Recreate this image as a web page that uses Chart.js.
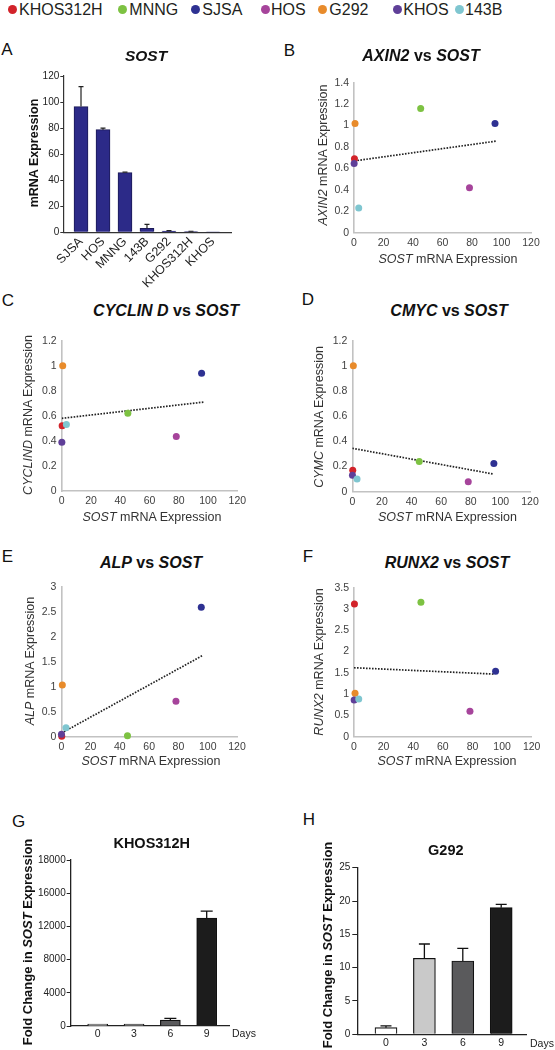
<!DOCTYPE html>
<html><head><meta charset="utf-8">
<script src="https://cdn.jsdelivr.net/npm/chart.js@4.4.1/dist/chart.umd.min.js"></script>
<style>
html,body{margin:0;padding:0;background:#fff;}
#page{position:relative;width:555px;height:1050px;overflow:hidden;font-family:'Liberation Sans',Arial,Helvetica,sans-serif;color:#1a1a1a;}
canvas{position:absolute;}
.t{position:absolute;white-space:nowrap;line-height:1;transform:translate(-50%,-50%);}
.r{transform:translate(-50%,-50%) rotate(-90deg);}
.dot{position:absolute;border-radius:50%;}
</style></head><body><div id="page"></div>
<script>
// ---------------- DATA ----------------
const cellLines = ['KHOS312H','MNNG','SJSA','HOS','G292','KHOS','143B'];

const barCategories = ['SJSA','HOS','MNNG','143B','G292','KHOS312H','KHOS'];
const sostBarValues = [96.5, 78.8, 45.8, 3.1, 1.0, 0.5, 0.1];
const sostBarErrors = [15.3, 1.2, 0.4, 3.0, 0.3, 0.3, 0.0];

// SOST expression (x) of each cell line, in cellLines order
const sostScatterX = [0.3, 45.2, 95.6, 78.3, 0.7, 0.1, 3.2];
const axin2Y   = [0.69, 1.16, 1.02, 0.42, 1.02, 0.645, 0.23];
const cyclinDY = [0.52, 0.62, 0.94, 0.435, 1.00, 0.39, 0.53];
const cmycY    = [0.17, 0.24, 0.225, 0.08, 1.00, 0.13, 0.10];
const alpY     = [0.01, 0.02, 2.60, 0.71, 1.04, 0.05, 0.18];
const runx2Y   = [3.12, 3.16, 1.54, 0.60, 1.02, 0.86, 0.885];

// trend line end points
const trendAxin2X = [0.3, 96.5],  trendAxin2Y = [0.67, 0.855];
const trendCyclinX = [0, 97],     trendCyclinY = [0.58, 0.71];
const trendCmycX = [0, 95.5],     trendCmycY = [0.345, 0.14];
const trendAlpX = [0, 96.5],      trendAlpY = [0.07, 1.63];
const trendRunx2X = [0, 95],      trendRunx2Y = [1.62, 1.47];

const days = ['0','3','6','9'];
const khosFold = [1, 50, 700, 13000];
const khosFoldErr = [0, 0, 220, 850];
const khosYTickLabels = ['0','4000','8000','12000','16000','18000'];
const g292Fold = [1.0, 11.4, 11.0, 19.0];
const g292FoldErr = [0.25, 2.15, 1.9, 0.5];

// ---------------- STYLE ----------------
const lineColors = ['#d2232a','#7dc242','#2e3192','#a6449b','#e88b2b','#5f3f98','#7fc6d0'];
const dayColors = ['#ffffff','#c9c9c9','#5a5a5c','#1c1c1c'];
const legendDotX = [12.7, 122.7, 195.7, 265.7, 322.7, 397.3, 459.3];
const legendTextX = [19, 129.3, 202.3, 271, 329.3, 403.3, 465];

Chart.defaults.font.family = "'Liberation Sans', Arial, Helvetica, sans-serif";
Chart.defaults.color = '#333';

const page = document.getElementById('page');

function txt(html, cx, cy, css, rot) {
  const d = document.createElement('div');
  d.className = 't' + (rot ? ' r' : '');
  d.innerHTML = html;
  d.style.left = cx + 'px';
  d.style.top = cy + 'px';
  d.style.cssText += css || '';
  page.appendChild(d);
  return d;
}

function place(cl, ct, cr, cb, mL, mT, mR, mB) {
  const left = Math.floor(cl - mL), top = Math.floor(ct - mT);
  const right = Math.ceil(cr + mR), bottom = Math.ceil(cb + mB);
  const c = document.createElement('canvas');
  c.width = right - left; c.height = bottom - top;
  c.style.left = left + 'px'; c.style.top = top + 'px';
  c.style.width = c.width + 'px'; c.style.height = c.height + 'px';
  page.appendChild(c);
  return {el: c, yw: cl - left, pt: ct - top, pr: right - cr, xh: bottom - cb};
}

const errorBarPlugin = {
  id: 'errbars',
  afterDatasetsDraw(chart, args, opts) {
    const ctx = chart.ctx, ys = chart.scales.y;
    chart.data.datasets.forEach((ds, di) => {
      if (!ds.errorBars) return;
      const meta = chart.getDatasetMeta(di);
      meta.data.forEach((el, i) => {
        const e = ds.errorBars[i];
        if (!e) return;
        const yTop = ys.getPixelForValue(ds.data[i].y + e);
        ctx.save();
        ctx.strokeStyle = opts.color; ctx.lineWidth = opts.width;
        ctx.beginPath();
        ctx.moveTo(el.x, el.y); ctx.lineTo(el.x, yTop);
        ctx.moveTo(el.x - opts.cap / 2, yTop); ctx.lineTo(el.x + opts.cap / 2, yTop);
        ctx.stroke();
        ctx.restore();
      });
    });
  }
};

const numFmt = v => String(+Number(v).toFixed(2));

// ---------------- LEGEND ----------------
cellLines.forEach((name, i) => {
  const d = document.createElement('div');
  d.className = 'dot';
  d.style.cssText += `left:${legendDotX[i]-4.5}px;top:${9.5-4.5}px;width:9px;height:9px;background:${lineColors[i]};`;
  page.appendChild(d);
  const t = document.createElement('div');
  t.className = 't';
  t.textContent = name;
  t.style.cssText += `left:${legendTextX[i]}px;top:10px;transform:translate(0,-50%);font-size:16px;color:#231f20;`;
  page.appendChild(t);
});

// ---------------- PANEL A ----------------
(function(){
  const p = place(63.3, 76, 231, 232.3, 43, 12, 12, 62);
  new Chart(p.el, {
    type: 'bar',
    data: { datasets: [{
      data: sostBarValues.map((v, i) => ({x: i, y: v})),
      errorBars: sostBarErrors,
      backgroundColor: '#2c2a88', borderColor: '#1b1a55', borderWidth: 1,
      barThickness: 14
    }]},
    plugins: [errorBarPlugin],
    options: {
      responsive: false, animation: false, devicePixelRatio: 1, events: [],
      layout: {padding: {left: 0, top: p.pt, right: p.pr, bottom: 0}},
      plugins: {legend: {display: false}, tooltip: {enabled: false},
        errbars: {color: '#222', width: 1.2, cap: 5}},
      scales: {
        x: {type: 'linear', offset: false, min: -0.805, max: 6.82,
          ticks: {stepSize: 1, includeBounds: false, autoSkip: false, minRotation: 45, maxRotation: 45,
            padding: 2, color: '#222', font: {size: 12.5},
            callback: v => Number.isInteger(v) ? barCategories[v] : ''},
          grid: {display: false, drawTicks: false},
          border: {display: true, color: '#333', width: 1.2},
          afterFit: s => { s.height = p.xh; }},
        y: {min: 0, max: 120,
          ticks: {stepSize: 20, padding: 1, color: '#222', font: {size: 10}},
          grid: {display: true, drawOnChartArea: false, drawTicks: true, tickLength: 3, color: '#333', lineWidth: 1},
          border: {display: true, color: '#333', width: 1.2},
          afterFit: s => { s.width = p.yw; }}
      }
    }
  });
})();

// ---------------- SCATTER PANELS ----------------
const scatterPanels = [
  {area: [354, 82.7, 531, 232.7], yMax: 1.4, step: 0.2, y: axin2Y, tx: trendAxin2X, ty: trendAxin2Y},
  {area: [61.7, 340.7, 237.3, 491], yMax: 1.2, step: 0.2, y: cyclinDY, tx: trendCyclinX, ty: trendCyclinY},
  {area: [352.3, 340.7, 530, 491.7], yMax: 1.2, step: 0.2, y: cmycY, tx: trendCmycX, ty: trendCmycY},
  {area: [61.3, 587.3, 237, 736.7], yMax: 3, step: 0.5, y: alpY, tx: trendAlpX, ty: trendAlpY},
  {area: [354, 587.7, 531.7, 736.7], yMax: 3.5, step: 0.5, y: runx2Y, tx: trendRunx2X, ty: trendRunx2Y}
];

scatterPanels.forEach(sp => {
  const [cl, ct, cr, cb] = sp.area;
  const p = place(cl, ct, cr, cb, 45, 12, 14, 24);
  new Chart(p.el, {
    type: 'scatter',
    data: { datasets: [
      { type: 'scatter', data: sostScatterX.map((x, i) => ({x: x, y: sp.y[i]})),
        pointBackgroundColor: lineColors, pointBorderWidth: 0, pointRadius: 3.5, clip: false, order: 0 },
      { type: 'line', data: sp.tx.map((x, i) => ({x: x, y: sp.ty[i]})), showLine: true,
        borderColor: '#222', borderWidth: 1.7, borderDash: [1.6, 1.4], pointRadius: 0, fill: false, order: 1 }
    ]},
    options: {
      responsive: false, animation: false, devicePixelRatio: 1, events: [],
      layout: {padding: {left: 0, top: p.pt, right: p.pr, bottom: 0}},
      plugins: {legend: {display: false}, tooltip: {enabled: false}},
      scales: {
        x: {type: 'linear', min: 0, max: 120,
          ticks: {stepSize: 20, padding: 4, color: '#404040', font: {size: 10.5}, callback: numFmt},
          grid: {display: false, drawTicks: false},
          border: {display: true, color: '#c2c2c2', width: 1.6},
          afterFit: s => { s.height = p.xh; }},
        y: {type: 'linear', min: 0, max: sp.yMax,
          ticks: {stepSize: sp.step, padding: 5, color: '#404040', font: {size: 10.5}, callback: numFmt},
          grid: {display: false, drawTicks: false},
          border: {display: true, color: '#c2c2c2', width: 1.6},
          afterFit: s => { s.width = p.yw; }}
      }
    }
  });
});

// ---------------- PANELS G / H ----------------
function foldPanel(area, xMin, xMax, vals, errs, yMax, yStep, yFmt, barW, cap, xPad, yPad, tickLen, minBar) {
  const [cl, ct, cr, cb] = area;
  const p = place(cl, ct, cr, cb, cl - Math.floor(cl - 55), 12, 14, 1050 - cb);
  new Chart(p.el, {
    type: 'bar',
    data: { datasets: [{
      data: vals.map((v, i) => ({x: i, y: v})),
      errorBars: errs,
      backgroundColor: dayColors, borderColor: '#111', borderWidth: 1.2,
      barThickness: barW, minBarLength: minBar
    }]},
    plugins: [errorBarPlugin],
    options: {
      responsive: false, animation: false, devicePixelRatio: 1, events: [],
      layout: {padding: {left: 0, top: p.pt, right: p.pr, bottom: 0}},
      plugins: {legend: {display: false}, tooltip: {enabled: false},
        errbars: {color: '#111', width: 1.3, cap: cap}},
      scales: {
        x: {type: 'linear', offset: false, min: xMin, max: xMax,
          ticks: {stepSize: 1, includeBounds: false, autoSkip: false, maxRotation: 0,
            padding: xPad, color: '#222', font: {size: 10.5},
            callback: v => Number.isInteger(v) ? days[v] : ''},
          grid: {display: false, drawTicks: false},
          border: {display: true, color: '#222', width: 1.3},
          afterFit: s => { s.height = p.xh; }},
        y: {min: 0, max: yMax,
          ticks: {stepSize: yStep, padding: yPad, color: '#222', font: {size: 10}, callback: yFmt},
          grid: {display: true, drawOnChartArea: false, drawTicks: true, tickLength: tickLen, color: '#222', lineWidth: 1},
          border: {display: true, color: '#222', width: 1.3},
          afterFit: s => { s.width = p.yw; }}
      }
    }
  });
}

foldPanel([70.7, 860, 229, 1026], -0.743, 3.614, khosFold, khosFoldErr, 20000, 4000,
  v => khosYTickLabels[Math.round(v / 4000)], 20, 12, 2, 1, 4, 2);
foldPanel([357.3, 867.7, 526.7, 1034.3], -0.747, 3.664, g292Fold, g292FoldErr, 25, 5,
  v => String(v), 22, 11, 3, 2, 5, 0);

// ---------------- TEXT ----------------
const L = 'font-size:17px;color:#111;';
txt('A', 7, 49, L); txt('B', 289.5, 50, L);
txt('C', 8, 300, L); txt('D', 308, 299, L);
txt('E', 7.5, 556, L); txt('F', 308, 556, L);
txt('G', 18.5, 821, L); txt('H', 309, 819, L);

const T = 'font-size:16px;font-weight:bold;color:#111;';
txt('<i>SOST</i>', 146, 56, 'font-size:15.5px;font-weight:bold;color:#111;');
txt('<i>AXIN2</i> vs <i>SOST</i>', 421, 56, T);
txt('<i>CYCLIN D</i> vs <i>SOST</i>', 166, 311, T);
txt('<i>CMYC</i> vs <i>SOST</i>', 449, 311, T);
txt('<i>ALP</i> vs <i>SOST</i>', 151, 563, T);
txt('<i>RUNX2</i> vs <i>SOST</i>', 447, 563, T);
txt('KHOS312H', 151.7, 843, 'font-size:14.5px;font-weight:bold;color:#111;');
txt('G292', 445.8, 850, 'font-size:14.5px;font-weight:bold;color:#111;');

txt('mRNA Expression', 34, 153, 'font-size:12.5px;font-weight:bold;color:#111;', true);

const X = 'font-size:12.5px;color:#333;';
const xTitle = '<i>SOST</i> mRNA Expression';
txt(xTitle, 448, 259, X);
txt(xTitle, 152, 516.7, X);
txt(xTitle, 447.5, 516.7, X);
txt(xTitle, 151, 761, X);
txt(xTitle, 447, 761, X);

txt('<i>AXIN2</i> mRNA Expression', 322.7, 155, X, true);
txt('<i>CYCLIND</i> mRNA Expression', 28, 415, X, true);
txt('<i>CYMC</i> mRNA Expression', 319, 416.7, X, true);
txt('<i>ALP</i> mRNA Expression', 30, 660.7, X, true);
txt('<i>RUNX2</i> mRNA Expression', 319.3, 662, X, true);

const F = 'font-size:13px;font-weight:bold;color:#111;';
txt('Fold Change in <i>SOST</i> Expression', 27, 942, F, true);
txt('Fold Change in <i>SOST</i> Expression', 326.7, 945, F, true);
txt('Days', 244, 1033, 'font-size:10.5px;color:#222;');
txt('Days', 542, 1043, 'font-size:10.5px;color:#222;');
</script></body></html>
